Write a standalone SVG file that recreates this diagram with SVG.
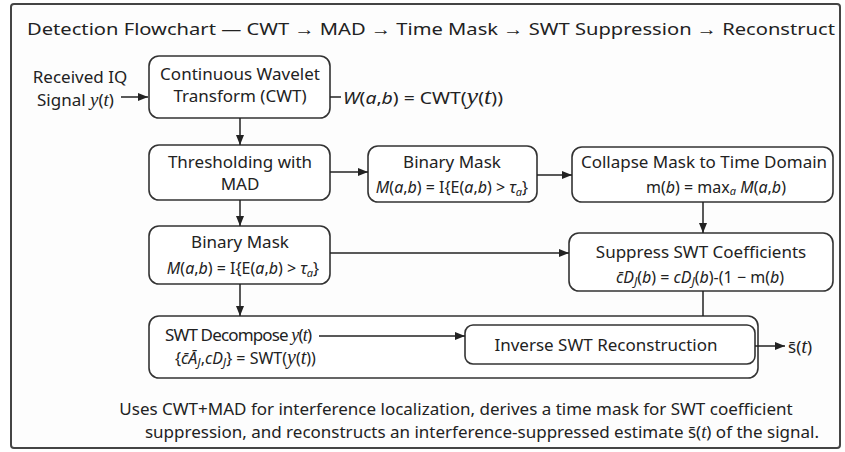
<svg xmlns="http://www.w3.org/2000/svg" width="845" height="452" viewBox="0 0 845 452">
<defs>
<marker id="ah" markerWidth="10" markerHeight="8" refX="10" refY="4" orient="auto" markerUnits="userSpaceOnUse">
<path d="M0,0 L10,4 L0,8 Z" fill="#222"/>
</marker>
<style>
.box{fill:#fff;stroke:#333;stroke-width:1.6}
.t{font-family:"Noto Sans","Open Sans",sans-serif;font-size:17px;fill:#222}
.m{font-family:"Noto Sans","Open Sans",sans-serif;font-size:16px;fill:#222}
.i{font-style:italic}
.s{font-family:"Liberation Serif",serif;font-style:italic}
.c{stroke:#222;stroke-width:1.5;fill:none}
.ca{stroke:#222;stroke-width:1.5;fill:none;marker-end:url(#ah)}
</style>
</defs>
<rect x="0" y="0" width="845" height="452" fill="#fff"/>
<rect x="11" y="4" width="829" height="444" rx="3" fill="#fdfdfd" stroke="#444" stroke-width="2"/>
<text class="t" x="27" y="35" font-size="20" textLength="808" lengthAdjust="spacingAndGlyphs">Detection Flowchart — CWT → MAD → Time Mask → SWT Suppression → Reconstruct</text>

<g id="input">
<text class="t" x="80" y="83" text-anchor="middle">Received IQ</text>
<text class="t" x="37" y="106">Signal <tspan class="s" font-size="19">y</tspan>(<tspan class="s" font-size="19">t</tspan>)</text>
</g>

<g id="cwt">
<rect class="box" x="149" y="56" width="181" height="62" rx="10"/>
<text class="t" x="240" y="80" text-anchor="middle">Continuous Wavelet</text>
<text class="t" x="240" y="102" text-anchor="middle">Transform (CWT)</text>
</g>
<g id="cwt-eq">
<text class="t" x="343" y="104" font-size="21" textLength="160" lengthAdjust="spacingAndGlyphs"><tspan class="i">W</tspan>(<tspan class="i">a</tspan>,<tspan class="i">b</tspan>) = CWT(<tspan class="s" font-size="23">y</tspan>(<tspan class="s" font-size="23">t</tspan>))</text>
</g>

<g id="thresh">
<rect class="box" x="149" y="145" width="181" height="55" rx="10"/>
<text class="t" x="240" y="168" text-anchor="middle">Thresholding with</text>
<text class="t" x="240" y="190" text-anchor="middle">MAD</text>
</g>

<g id="mask1">
<rect class="box" x="368" y="146" width="169" height="56" rx="10"/>
<text class="t" x="452" y="168" text-anchor="middle">Binary Mask</text>
<text class="m" x="452" y="193" text-anchor="middle" font-size="16.5"><tspan class="i">M</tspan>(<tspan class="i">a</tspan>,<tspan class="i">b</tspan>) = I{E(<tspan class="i">a</tspan>,<tspan class="i">b</tspan>) &gt; <tspan class="i">τ</tspan><tspan class="i" font-size="11" dy="3">a</tspan><tspan dy="-3">}</tspan></text>
</g>

<g id="collapse">
<rect class="box" x="572" y="147" width="261" height="55" rx="10"/>
<text class="t" x="704" y="168" text-anchor="middle">Collapse Mask to Time Domain</text>
<text class="m" x="716" y="193" text-anchor="middle" font-size="16.5">m(<tspan class="i">b</tspan>) = max<tspan class="i" font-size="11" dy="2">a</tspan><tspan dy="-2"> </tspan><tspan class="i">M</tspan>(<tspan class="i">a</tspan>,<tspan class="i">b</tspan>)</text>
</g>

<g id="mask2">
<rect class="box" x="149" y="226" width="181" height="58" rx="10"/>
<text class="t" x="240" y="248" text-anchor="middle">Binary Mask</text>
<text class="m" x="243" y="274" text-anchor="middle" font-size="16.5"><tspan class="i">M</tspan>(<tspan class="i">a</tspan>,<tspan class="i">b</tspan>) = I{E(<tspan class="i">a</tspan>,<tspan class="i">b</tspan>) &gt; <tspan class="i">τ</tspan><tspan class="i" font-size="11" dy="3">a</tspan><tspan dy="-3">}</tspan></text>
</g>

<g id="suppress">
<rect class="box" x="569" y="233" width="264" height="58" rx="10"/>
<text class="t" x="701" y="258" text-anchor="middle">Suppress SWT Coefficients</text>
<text class="m" x="700" y="283" text-anchor="middle" font-size="18.5"><tspan class="i">c̄D</tspan><tspan class="i" font-size="12" dy="3">J</tspan><tspan dy="-3">(</tspan><tspan class="i">b</tspan>) = <tspan class="i">cD</tspan><tspan class="i" font-size="12" dy="3">J</tspan><tspan dy="-3">(</tspan><tspan class="i">b</tspan>)-(1 − m(<tspan class="i">b</tspan>)</text>
</g>

<g id="swt">
<rect class="box" x="149" y="316" width="609" height="62" rx="10"/>
<text class="t" x="165" y="341" font-size="16" textLength="147">SWT Decompose <tspan class="s" font-size="18">y</tspan>(<tspan class="s" font-size="18">t</tspan>)</text>
<text class="m" x="175" y="364" font-size="19">{<tspan class="i">c̄Ā</tspan><tspan class="i" font-size="12" dy="3">J</tspan><tspan dy="-3">,</tspan><tspan class="i">cD</tspan><tspan class="i" font-size="12" dy="3">J</tspan><tspan dy="-3">} = SWT(</tspan><tspan class="s" font-size="20">y</tspan>(<tspan class="s" font-size="20">t</tspan>))</text>
</g>

<g id="iswt">
<rect class="box" x="465" y="325" width="290" height="39" rx="8"/>
<text class="t" x="606" y="351" text-anchor="middle">Inverse SWT Reconstruction</text>
</g>

<g id="output">
<text class="t" x="788" y="353" font-size="20">s̄(<tspan class="s" font-size="21">t</tspan>)</text>
</g>

<g id="connectors">
<path class="ca" d="M121,97 L148,97"/>
<path class="c" d="M330,97 L341,97"/>
<path class="ca" d="M240,118 L240,145"/>
<path class="ca" d="M330,172 L368,172"/>
<path class="ca" d="M537,175 L572,175"/>
<path class="ca" d="M240,200 L240,226"/>
<path class="ca" d="M703,202 L703,233"/>
<path class="ca" d="M330,253 L569,253"/>
<path class="ca" d="M240,284 L240,316"/>
<path class="c" d="M703,291 L703,316"/>
<path class="ca" d="M319,336 L465,336"/>
<path class="ca" d="M755,346 L785,346"/>
</g>

<g id="caption">
<text class="t" x="456" y="415" text-anchor="middle" font-size="17.4">Uses CWT+MAD for interference localization, derives a time mask for SWT coefficient</text>
<text class="t" x="482" y="438" text-anchor="middle" font-size="17.4">suppression, and reconstructs an interference-suppressed estimate s̄(<tspan class="s" font-size="18.5">t</tspan>) of the signal.</text>
</g>
</svg>
